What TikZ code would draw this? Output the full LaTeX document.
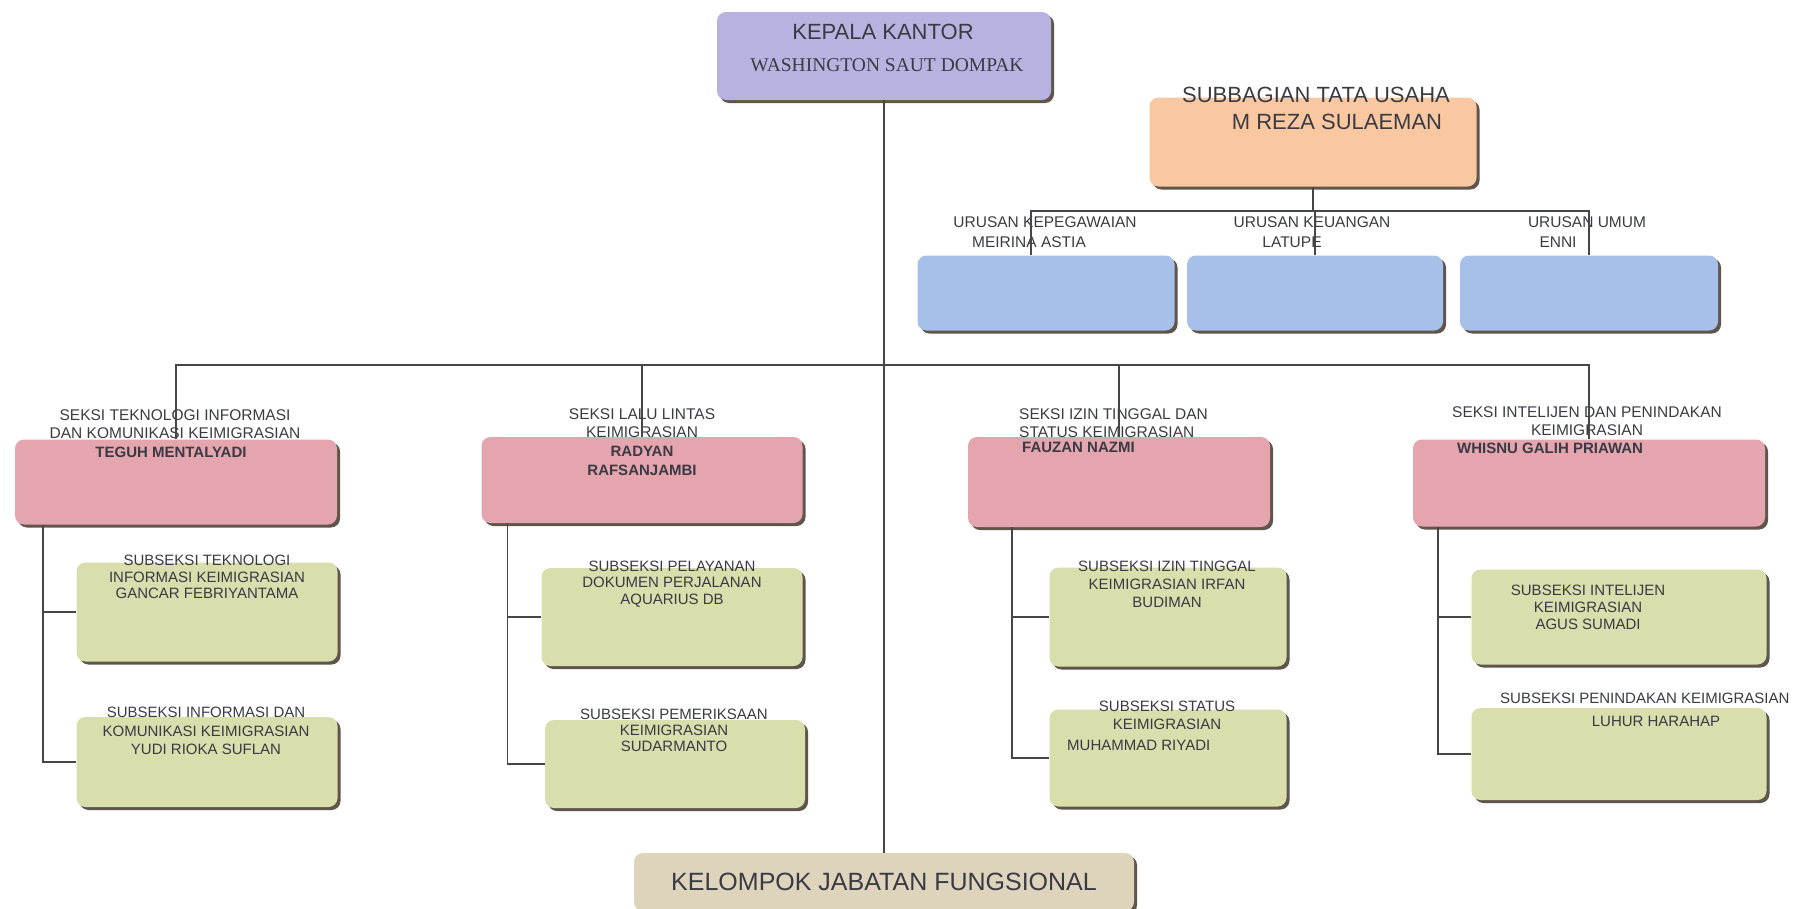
\documentclass[tikz,border=0pt]{standalone}
\usepackage{fontspec}
\setmainfont{Liberation Sans}
\newfontfamily\timesfont{Liberation Serif}
\usetikzlibrary{shadows}

\definecolor{kepalacol}{RGB}{184,178,224}
\definecolor{subbagcol}{RGB}{250,200,160}
\definecolor{urusancol}{RGB}{166,192,234}
\definecolor{seksicol}{RGB}{228,165,174}
\definecolor{subseksicol}{RGB}{216,222,172}
\definecolor{fungsicol}{RGB}{222,212,188}
\definecolor{shadecol}{RGB}{95,85,75}
\definecolor{linecol}{RGB}{70,70,70}
\definecolor{textcol}{RGB}{58,58,68}

\begin{document}
\begin{tikzpicture}[x=1pt, y=-1pt,
		box/.style={rectangle, rounded corners=9pt, inner sep=0pt, draw=none, drop shadow={shadow xshift=3pt, shadow yshift=-3pt, opacity=1, fill=shadecol}},
		kepalabox/.style={box, fill=kepalacol},
		subbagbox/.style={box, fill=subbagcol},
		urusanbox/.style={box, fill=urusancol, minimum height=75pt},
		seksibox/.style={box, fill=seksicol},
		subbox/.style={box, fill=subseksicol},
		fungsibox/.style={box, fill=fungsicol, text=textcol, font=\fontsize{25}{28}\selectfont},
		txt/.style={inner sep=0pt, align=center, text=textcol},
		bigtxt/.style={txt, font=\fontsize{22}{26}\selectfont},
		urtxt/.style={txt, font=\fontsize{15.5}{20}\selectfont},
		sektxt/.style={txt, font=\fontsize{15.5}{17.5}\selectfont},
		subtxt/.style={txt, font=\fontsize{15}{17.5}\selectfont},
		conn/.style={draw=linecol, line width=1.6pt},
		]
		\useasboundingbox (0,0) rectangle (1810,908);

		%Main Nodes
		\node[kepalabox, minimum width=334pt, minimum height=88pt]	(kepala)	at (884,56)	{};
		\node[bigtxt]	(kepala_t)	at (883,32)	{KEPALA KANTOR};
		\node[txt, font=\timesfont\fontsize{19.5}{22}\selectfont]	(kepala_n)	at (887,65)	{WASHINGTON SAUT DOMPAK};
		\node[fungsibox, minimum width=500pt, minimum height=58pt]	(fungsi)	at (884,882)	{KELOMPOK JABATAN FUNGSIONAL};

		%Subbagian
		\node[subbagbox, minimum width=327pt, minimum height=89pt]	(subbag)	at (1313,142)	{};
		\node[bigtxt]	(subbag_t)	at (1316,95)	{SUBBAGIAN TATA USAHA};
		\node[bigtxt]	(subbag_n)	at (1337,122)	{M REZA SULAEMAN};
		\node[urusanbox, minimum width=257pt]	(ur_1)	at (1046,293)	{};
		\node[urusanbox, minimum width=256pt]	(ur_2)	at (1315,293)	{};
		\node[urusanbox, minimum width=258pt]	(ur_3)	at (1589,293)	{};
		\node[urtxt]	(ur_1t)	at (1045,222)	{URUSAN KEPEGAWAIAN};
		\node[urtxt]	(ur_1n)	at (1029,242)	{MEIRINA ASTIA};
		\node[urtxt]	(ur_2t)	at (1312,222)	{URUSAN KEUANGAN};
		\node[urtxt]	(ur_2n)	at (1292,242)	{LATUPE};
		\node[urtxt]	(ur_3t)	at (1587,222)	{URUSAN UMUM};
		\node[urtxt]	(ur_3n)	at (1558,242)	{ENNI};

		%Seksi
		\node[seksibox, minimum width=322pt, minimum height=85pt]	(sek_1)	at (176,482)	{};
		\node[seksibox, minimum width=321pt, minimum height=86pt]	(sek_2)	at (642,480)	{};
		\node[seksibox, minimum width=302pt, minimum height=90pt]	(sek_3)	at (1119,482)	{};
		\node[seksibox, minimum width=352pt, minimum height=87pt]	(sek_4)	at (1589,483)	{};
		\node[sektxt]	(sek_1t)	at (175,424)	{SEKSI TEKNOLOGI INFORMASI\\DAN KOMUNIKASI KEIMIGRASIAN};
		\node[sektxt, font=\bfseries\fontsize{15}{17.5}\selectfont]	(sek_1n)	at (171,452)	{TEGUH MENTALYADI};
		\node[sektxt]	(sek_2t)	at (642,423)	{SEKSI LALU LINTAS\\KEIMIGRASIAN};
		\node[sektxt, font=\bfseries\fontsize{15}{18.5}\selectfont]	(sek_2n)	at (642,461)	{RADYAN\\RAFSANJAMBI};
		\node[sektxt, anchor=west, align=left]	(sek_3t)	at (1019,423)	{SEKSI IZIN TINGGAL DAN\\STATUS KEIMIGRASIAN};
		\node[sektxt, anchor=west, font=\bfseries\fontsize{15}{17.5}\selectfont]	(sek_3n)	at (1022,447)	{FAUZAN NAZMI};
		\node[sektxt]	(sek_4t)	at (1587,421)	{SEKSI INTELIJEN DAN PENINDAKAN\\KEIMIGRASIAN};
		\node[sektxt, anchor=west, font=\bfseries\fontsize{15}{17.5}\selectfont]	(sek_4n)	at (1457,448)	{WHISNU GALIH PRIAWAN};

		%Subseksi
		\node[subbox, minimum width=261pt, minimum height=99pt]	(sub_11)	at (207,612)	{};
		\node[subbox, minimum width=261pt, minimum height=90pt]	(sub_12)	at (207,762)	{};
		\node[subbox, minimum width=261pt, minimum height=98pt]	(sub_21)	at (672,617)	{};
		\node[subbox, minimum width=260pt, minimum height=88pt]	(sub_22)	at (675,764)	{};
		\node[subbox, minimum width=237pt, minimum height=99pt]	(sub_31)	at (1168,617)	{};
		\node[subbox, minimum width=237pt, minimum height=97pt]	(sub_32)	at (1168,758)	{};
		\node[subbox, minimum width=295pt, minimum height=95pt]	(sub_41)	at (1619,617)	{};
		\node[subbox, minimum width=295pt, minimum height=92pt]	(sub_42)	at (1619,754)	{};
		\node[subtxt, font=\fontsize{15}{16.5}\selectfont]	(sub_11t)	at (207,577)	{SUBSEKSI TEKNOLOGI\\INFORMASI KEIMIGRASIAN\\GANCAR FEBRIYANTAMA};
		\node[subtxt, font=\fontsize{15}{18.5}\selectfont]	(sub_12t)	at (206,731)	{SUBSEKSI INFORMASI DAN\\KOMUNIKASI KEIMIGRASIAN\\YUDI RIOKA SUFLAN};
		\node[subtxt, font=\fontsize{15}{16.5}\selectfont]	(sub_21t)	at (672,584)	{SUBSEKSI PELAYANAN\\DOKUMEN PERJALANAN\\AQUARIUS DB};
		\node[subtxt, font=\fontsize{15}{16}\selectfont]	(sub_22t)	at (674,730)	{SUBSEKSI PEMERIKSAAN\\KEIMIGRASIAN\\SUDARMANTO};
		\node[subtxt, font=\fontsize{15}{18}\selectfont]	(sub_31t)	at (1167,584)	{SUBSEKSI IZIN TINGGAL\\KEIMIGRASIAN IRFAN\\BUDIMAN};
		\node[subtxt, font=\fontsize{15}{18}\selectfont]	(sub_32t)	at (1167,715)	{SUBSEKSI STATUS\\KEIMIGRASIAN};
		\node[subtxt, anchor=west]	(sub_32n)	at (1067,745)	{MUHAMMAD RIYADI};
		\node[subtxt, font=\fontsize{15}{17}\selectfont]	(sub_41t)	at (1588,607)	{SUBSEKSI INTELIJEN\\KEIMIGRASIAN\\AGUS SUMADI};
		\node[subtxt, anchor=west]	(sub_42t)	at (1500,698)	{SUBSEKSI PENINDAKAN KEIMIGRASIAN};
		\node[subtxt]	(sub_42n)	at (1656,721)	{LUHUR HARAHAP};

		%Main Lines
		\coordinate (mainbus) at (884,365);
		\draw[conn]	(kepala.south)	--	(fungsi.north);
		\draw[conn]	(sek_1.north)	|-	(mainbus) -| (sek_4.north);
		\draw[conn]	(sek_2.north)	--	(sek_2.north |- mainbus);
		\draw[conn]	(sek_3.north)	--	(sek_3.north |- mainbus);

		%Urusan Lines
		\coordinate (urbus) at (1313,211);
		\draw[conn]	(subbag.south)	--	(urbus);
		\draw[conn]	([xshift=-15pt]ur_1.north)	|-	(urbus) -| (ur_3.north);
		\draw[conn]	(ur_2.north)	--	(ur_2.north |- urbus);

		%Subseksi Lines
		\coordinate (tap_1) at ([xshift=28pt]sek_1.south west);
		\coordinate (tap_2) at ([xshift=26pt]sek_2.south west);
		\coordinate (tap_3) at ([xshift=44pt]sek_3.south west);
		\coordinate (tap_4) at ([xshift=25pt]sek_4.south west);
		\draw[conn]	(tap_1)	|-	(sub_12.west);
		\draw[conn]	(sub_11.west)	--	(sub_11.west -| tap_1);
		\draw[conn]	(tap_2)	|-	(sub_22.west);
		\draw[conn]	(sub_21.west)	--	(sub_21.west -| tap_2);
		\draw[conn]	(tap_3)	|-	(sub_32.west);
		\draw[conn]	(sub_31.west)	--	(sub_31.west -| tap_3);
		\draw[conn]	(tap_4)	|-	(sub_42.west);
		\draw[conn]	(sub_41.west)	--	(sub_41.west -| tap_4);

	\end{tikzpicture}
\end{document}
